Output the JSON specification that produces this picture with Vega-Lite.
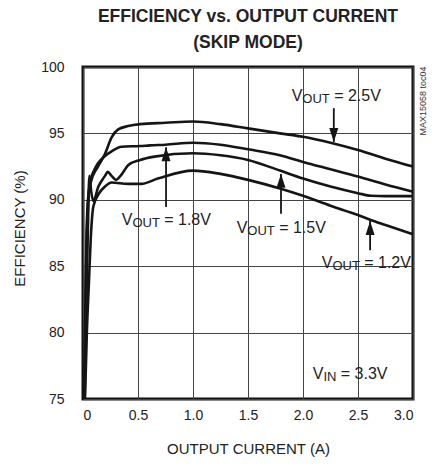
{
  "$schema": "https://vega.github.io/schema/vega-lite/v6.json",
  "width": 330,
  "height": 332,
  "autosize": {"type": "none"},
  "padding": {"left": 83, "top": 67, "right": 21, "bottom": 67},
  "background": "white",
  "config": {
    "view": {"stroke": "#111", "strokeWidth": 3},
    "font": "Liberation Sans",
    "axis": {
      "grid": true,
      "gridColor": "#444",
      "gridWidth": 1,
      "ticks": false,
      "domain": false,
      "labelFont": "Liberation Sans",
      "labelFontSize": 14,
      "labelColor": "#222",
      "titleFont": "Liberation Sans",
      "titleFontSize": 15,
      "titleFontWeight": "normal",
      "titleColor": "#222"
    }
  },
  "title": {
    "text": ["EFFICIENCY vs. OUTPUT CURRENT", "(SKIP MODE)"],
    "font": "Liberation Sans",
    "fontSize": 17.5,
    "fontWeight": "bold",
    "color": "#222",
    "anchor": "middle",
    "offset": 9,
    "lineHeight": 26
  },
  "datasets": {
    "curves": [
      {"series": "2.5V", "current": 0.012, "efficiency": 75},
      {"series": "2.5V", "current": 0.02, "efficiency": 81},
      {"series": "2.5V", "current": 0.03, "efficiency": 86.5},
      {"series": "2.5V", "current": 0.045, "efficiency": 90},
      {"series": "2.5V", "current": 0.07, "efficiency": 91.3},
      {"series": "2.5V", "current": 0.136, "efficiency": 92.5},
      {"series": "2.5V", "current": 0.197, "efficiency": 93.4},
      {"series": "2.5V", "current": 0.26, "efficiency": 94.7},
      {"series": "2.5V", "current": 0.32, "efficiency": 95.3},
      {"series": "2.5V", "current": 0.41, "efficiency": 95.55},
      {"series": "2.5V", "current": 0.52, "efficiency": 95.7},
      {"series": "2.5V", "current": 0.75, "efficiency": 95.8},
      {"series": "2.5V", "current": 1.0, "efficiency": 95.9},
      {"series": "2.5V", "current": 1.25, "efficiency": 95.7},
      {"series": "2.5V", "current": 1.5, "efficiency": 95.38},
      {"series": "2.5V", "current": 1.79, "efficiency": 95.0},
      {"series": "2.5V", "current": 2.0, "efficiency": 94.75},
      {"series": "2.5V", "current": 2.25, "efficiency": 94.3},
      {"series": "2.5V", "current": 2.5, "efficiency": 93.75},
      {"series": "2.5V", "current": 2.75, "efficiency": 93.1},
      {"series": "2.5V", "current": 3.0, "efficiency": 92.5},

      {"series": "1.8V", "current": 0.012, "efficiency": 75},
      {"series": "1.8V", "current": 0.022, "efficiency": 82},
      {"series": "1.8V", "current": 0.035, "efficiency": 87.5},
      {"series": "1.8V", "current": 0.05, "efficiency": 90.3},
      {"series": "1.8V", "current": 0.07, "efficiency": 91.5},
      {"series": "1.8V", "current": 0.1, "efficiency": 92.2},
      {"series": "1.8V", "current": 0.136, "efficiency": 92.75},
      {"series": "1.8V", "current": 0.2, "efficiency": 93.3},
      {"series": "1.8V", "current": 0.26, "efficiency": 93.65},
      {"series": "1.8V", "current": 0.35, "efficiency": 94.0},
      {"series": "1.8V", "current": 0.52, "efficiency": 94.05},
      {"series": "1.8V", "current": 0.61, "efficiency": 94.1},
      {"series": "1.8V", "current": 0.75, "efficiency": 94.15},
      {"series": "1.8V", "current": 1.0, "efficiency": 94.3},
      {"series": "1.8V", "current": 1.25, "efficiency": 94.15},
      {"series": "1.8V", "current": 1.5, "efficiency": 93.8},
      {"series": "1.8V", "current": 1.79, "efficiency": 93.35},
      {"series": "1.8V", "current": 2.0, "efficiency": 92.85},
      {"series": "1.8V", "current": 2.25, "efficiency": 92.3},
      {"series": "1.8V", "current": 2.5, "efficiency": 91.75},
      {"series": "1.8V", "current": 2.75, "efficiency": 91.15},
      {"series": "1.8V", "current": 3.0, "efficiency": 90.6},

      {"series": "1.5V", "current": 0.015, "efficiency": 75},
      {"series": "1.5V", "current": 0.028, "efficiency": 81},
      {"series": "1.5V", "current": 0.045, "efficiency": 88},
      {"series": "1.5V", "current": 0.058, "efficiency": 91.8},
      {"series": "1.5V", "current": 0.075, "efficiency": 90.6},
      {"series": "1.5V", "current": 0.094, "efficiency": 89.9},
      {"series": "1.5V", "current": 0.14, "efficiency": 91.0},
      {"series": "1.5V", "current": 0.2, "efficiency": 91.8},
      {"series": "1.5V", "current": 0.225, "efficiency": 92.1},
      {"series": "1.5V", "current": 0.26, "efficiency": 91.8},
      {"series": "1.5V", "current": 0.3, "efficiency": 91.5},
      {"series": "1.5V", "current": 0.35, "efficiency": 91.9},
      {"series": "1.5V", "current": 0.41, "efficiency": 92.6},
      {"series": "1.5V", "current": 0.52, "efficiency": 93.0},
      {"series": "1.5V", "current": 0.65, "efficiency": 93.25},
      {"series": "1.5V", "current": 1.0, "efficiency": 93.5},
      {"series": "1.5V", "current": 1.25, "efficiency": 93.35},
      {"series": "1.5V", "current": 1.5, "efficiency": 93.0},
      {"series": "1.5V", "current": 1.79, "efficiency": 92.2},
      {"series": "1.5V", "current": 2.0, "efficiency": 91.6},
      {"series": "1.5V", "current": 2.25, "efficiency": 91.0},
      {"series": "1.5V", "current": 2.5, "efficiency": 90.5},
      {"series": "1.5V", "current": 2.62, "efficiency": 90.3},
      {"series": "1.5V", "current": 2.75, "efficiency": 90.28},
      {"series": "1.5V", "current": 3.0, "efficiency": 90.28},

      {"series": "1.2V", "current": 0.018, "efficiency": 75},
      {"series": "1.2V", "current": 0.035, "efficiency": 80},
      {"series": "1.2V", "current": 0.055, "efficiency": 84},
      {"series": "1.2V", "current": 0.07, "efficiency": 87},
      {"series": "1.2V", "current": 0.094, "efficiency": 89.5},
      {"series": "1.2V", "current": 0.14, "efficiency": 90.4},
      {"series": "1.2V", "current": 0.2, "efficiency": 91.0},
      {"series": "1.2V", "current": 0.26, "efficiency": 91.3},
      {"series": "1.2V", "current": 0.41, "efficiency": 91.2},
      {"series": "1.2V", "current": 0.53, "efficiency": 91.2},
      {"series": "1.2V", "current": 0.68, "efficiency": 91.6},
      {"series": "1.2V", "current": 1.0, "efficiency": 92.2},
      {"series": "1.2V", "current": 1.25, "efficiency": 91.95},
      {"series": "1.2V", "current": 1.5, "efficiency": 91.5},
      {"series": "1.2V", "current": 1.79, "efficiency": 90.85},
      {"series": "1.2V", "current": 2.0, "efficiency": 90.3},
      {"series": "1.2V", "current": 2.25, "efficiency": 89.55},
      {"series": "1.2V", "current": 2.5, "efficiency": 88.85},
      {"series": "1.2V", "current": 2.61, "efficiency": 88.5},
      {"series": "1.2V", "current": 2.75, "efficiency": 88.1},
      {"series": "1.2V", "current": 3.0, "efficiency": 87.4}
    ],
    "arrows": [
      {"series": "2.5V", "current": 2.28, "tail": 96.9, "tip": 94.35, "dir": "down"},
      {"series": "1.8V", "current": 0.755, "tail": 89.45, "tip": 93.95, "dir": "up"},
      {"series": "1.5V", "current": 1.8, "tail": 88.95, "tip": 91.95, "dir": "up"},
      {"series": "1.2V", "current": 2.61, "tail": 86.2, "tip": 88.4, "dir": "up"}
    ],
    "labels": [
      {"main": "V", "sub": "OUT", "rest": "= 2.5V", "current": 1.897, "efficiency": 97.84},
      {"main": "V", "sub": "OUT", "rest": "= 1.8V", "current": 0.352, "efficiency": 88.48},
      {"main": "V", "sub": "OUT", "rest": "= 1.5V", "current": 1.397, "efficiency": 87.88},
      {"main": "V", "sub": "OUT", "rest": "= 1.2V", "current": 2.17, "efficiency": 85.24},
      {"main": "V", "sub": "IN", "rest": "= 3.3V", "current": 2.088, "efficiency": 76.88}
    ],
    "note": [
      {"text": "MAX15058 toc04", "current": 3.09, "efficiency": 97.44}
    ]
  },
  "encoding": {
    "x": {
      "field": "current",
      "type": "quantitative",
      "scale": {"domain": [0, 3], "nice": false, "zero": false},
      "axis": {
        "title": "OUTPUT CURRENT (A)",
        "values": [0, 0.5, 1, 1.5, 2, 2.5, 3],
        "labelExpr": "datum.value == 0 ? '0' : format(datum.value, '.1f')",
        "labelPadding": 16,
        "labelBaseline": "middle",
        "titleBaseline": "middle",
        "titleY": 49
      }
    },
    "y": {
      "field": "efficiency",
      "type": "quantitative",
      "scale": {"domain": [75, 100], "nice": false, "zero": false},
      "axis": {
        "title": "EFFICIENCY (%)",
        "values": [75, 80, 85, 90, 95, 100],
        "labelPadding": 19,
        "titleAngle": -90,
        "titleBaseline": "middle",
        "titleX": -64,
        "titleY": 161
      }
    }
  },
  "layer": [
    {
      "data": {"name": "curves"},
      "mark": {"type": "line", "color": "#151515", "strokeWidth": 2.6, "interpolate": "monotone"},
      "encoding": {"detail": {"field": "series", "type": "nominal"}}
    },
    {
      "data": {"name": "arrows"},
      "mark": {"type": "rule", "color": "#151515", "strokeWidth": 1.8},
      "encoding": {"y": {"field": "tail", "type": "quantitative"}, "y2": {"field": "tip"}}
    },
    {
      "data": {"name": "arrows"},
      "mark": {"type": "point", "filled": true, "color": "#151515", "opacity": 1, "size": 81},
      "encoding": {
        "y": {"field": "tip", "type": "quantitative"},
        "shape": {
          "field": "dir",
          "type": "nominal",
          "scale": {"domain": ["up", "down"], "range": ["M0,0L-1,3.1L1,3.1Z", "M0,0L-1,-3.1L1,-3.1Z"]},
          "legend": null
        }
      }
    },
    {
      "data": {"name": "labels"},
      "mark": {"type": "text", "font": "Liberation Sans", "fontSize": 16, "align": "left", "baseline": "middle", "color": "#222"},
      "encoding": {"text": {"field": "main"}}
    },
    {
      "data": {"name": "labels"},
      "mark": {"type": "text", "font": "Liberation Sans", "fontSize": 13, "align": "left", "baseline": "middle", "color": "#222", "dx": 10.7, "dy": 3},
      "encoding": {"text": {"field": "sub"}}
    },
    {
      "data": {"name": "labels"},
      "transform": [{"filter": "datum.sub == 'OUT'"}],
      "mark": {"type": "text", "font": "Liberation Sans", "fontSize": 16, "align": "left", "baseline": "middle", "color": "#222", "dx": 42.5},
      "encoding": {"text": {"field": "rest"}}
    },
    {
      "data": {"name": "labels"},
      "transform": [{"filter": "datum.sub == 'IN'"}],
      "mark": {"type": "text", "font": "Liberation Sans", "fontSize": 16, "align": "left", "baseline": "middle", "color": "#222", "dx": 28.1},
      "encoding": {"text": {"field": "rest"}}
    },
    {
      "data": {"name": "note"},
      "mark": {"type": "text", "font": "Liberation Sans", "fontSize": 9, "angle": -90, "align": "center", "baseline": "middle", "color": "#333"},
      "encoding": {"text": {"field": "text"}}
    }
  ]
}
